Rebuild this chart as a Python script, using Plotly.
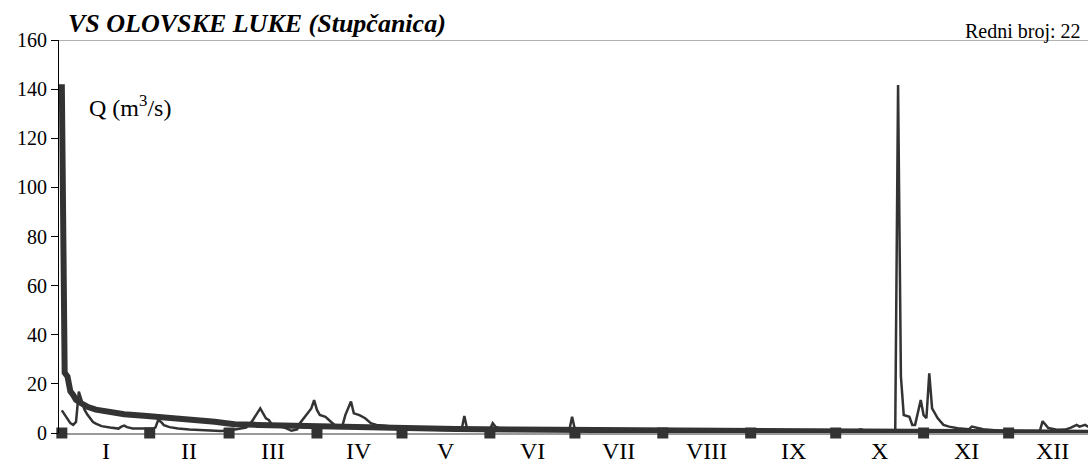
import plotly.graph_objects as go

# daily discharge hydrograph, read at its vertices (day of year, m3/s)
daily_day = [1, 2, 3, 4, 5, 6, 7, 8, 9, 10, 11, 12, 13, 15, 18, 21, 22, 23, 24, 26, 30, 33, 34, 35, 36, 37,
             39, 42, 46, 52, 57, 60, 64, 66, 68, 71, 73, 74, 75, 77, 80, 82, 84, 85, 87, 88, 89, 90, 91, 92,
             94, 96, 98, 100, 101, 103, 104, 106, 108, 110, 112, 115, 118, 122, 126, 130, 136, 142, 143, 144,
             148, 152, 153, 154, 156, 160, 170, 178, 180, 181, 182, 186, 195, 205, 215, 225, 240, 255, 270,
             280, 282, 283, 284, 290, 294, 295, 296, 297, 298, 300, 301, 302, 304, 305, 306, 307, 308, 310,
             312, 314, 317, 321, 322, 326, 333, 340, 346, 347, 349, 352, 355, 357, 358, 359, 360, 362, 363, 365]
daily_q = [9.2, 7.5, 5.5, 4.0, 3.3, 4.5, 16.8, 13.0, 9.5, 7.5, 6.0, 4.5, 3.8, 2.8, 2.2, 1.8, 2.6, 3.0, 2.4,
           1.8, 1.8, 1.8, 2.2, 5.3, 4.5, 3.2, 2.4, 1.8, 1.4, 1.0, 0.8, 1.0, 1.6, 2.2, 4.6, 10.0, 6.0, 5.3,
           3.7, 3.0, 2.0, 0.9, 1.5, 4.0, 7.0, 8.7, 10.0, 13.4, 9.4, 7.3, 6.6, 4.5, 2.6, 3.0, 7.3, 12.8, 8.0,
           7.3, 6.0, 4.0, 3.3, 3.0, 2.5, 2.0, 1.8, 1.4, 1.2, 1.2, 6.9, 1.5, 1.3, 1.4, 4.0, 2.5, 1.8, 1.2,
           1.0, 0.9, 1.0, 6.6, 1.4, 1.5, 1.3, 1.1, 0.9, 0.8, 0.7, 0.6, 0.6, 0.6, 1.2, 1.5, 0.9, 0.6, 0.6,
           1.0, 141.7, 23.0, 7.3, 6.6, 3.3, 3.3, 13.4, 7.3, 6.0, 24.3, 10.0, 6.0, 3.3, 2.6, 1.9, 1.5, 2.6,
           1.5, 0.8, 0.8, 0.8, 4.8, 2.0, 1.3, 1.4, 2.2, 2.8, 3.3, 2.6, 3.3, 2.6, 2.4]

# duration curve (thick line), read at its vertices
dur_day = [1, 2, 3, 4, 5, 6, 8, 10, 13, 17, 23, 30, 35, 45, 55, 59, 62, 70, 80, 95, 110, 122, 140, 160,
           182, 200, 230, 260, 290, 320, 350, 365]
dur_q = [142, 24.5, 23, 17, 15.5, 13.5, 12, 10.7, 9.5, 8.7, 7.6, 7.0, 6.6, 5.5, 4.6, 4.0, 3.6, 3.3, 3.0,
         2.5, 2.1, 1.9, 1.6, 1.4, 1.2, 1.0, 0.8, 0.6, 0.5, 0.3, 0.2, 0.1]

month_start = [1, 32, 60, 91, 121, 152, 182, 213, 244, 274, 305, 335]
month_mid = [16.5, 46, 75.5, 106, 136.5, 167, 197.5, 228.5, 259, 289.5, 320, 350.5]
month_names = ['I', 'II', 'III', 'IV', 'V', 'VI', 'VII', 'VIII', 'IX', 'X', 'XI', 'XII']

serif = 'Liberation Serif, Times New Roman, serif'
ink = '#333333'

fig = go.Figure()
fig.add_trace(go.Scatter(x=daily_day, y=daily_q, mode='lines',
                         line=dict(color=ink, width=2.5), showlegend=False))
fig.add_trace(go.Scatter(x=dur_day, y=dur_q, mode='lines',
                         line=dict(color=ink, width=6), showlegend=False))
fig.add_trace(go.Scatter(x=month_start, y=[0] * len(month_start), mode='markers',
                         marker=dict(symbol='square', size=11, color=ink),
                         cliponaxis=False, showlegend=False))

fig.add_shape(type='line', xref='paper', x0=0, x1=1, yref='y', y0=160, y1=160,
              line=dict(color='#999999', width=1.5))

# month names under the axis
for mid, name in zip(month_mid, month_names):
    fig.add_annotation(text=name, x=mid, y=0, xref='x', yref='y', yanchor='top', yshift=-3,
                       showarrow=False, font=dict(family=serif, size=24, color='black'))

fig.add_annotation(text='Redni broj: 22', xref='paper', yref='paper', x=0.995, y=1.0,
                   xanchor='right', yanchor='bottom', yshift=-5, showarrow=False,
                   font=dict(family=serif, size=20, color='black'))
fig.add_annotation(text='Q (m<sup>3</sup>/s)', xref='x', yref='y', x=10, y=133,
                   xanchor='left', yanchor='middle', showarrow=False,
                   font=dict(family=serif, size=24, color='black'))

fig.update_layout(
    width=1088, height=464,
    paper_bgcolor='white', plot_bgcolor='white',
    margin=dict(l=59, r=0, t=40, b=31),
    font=dict(family=serif, color='black'),
    title=dict(text='<b><i>VS OLOVSKE LUKE (Stupčanica)</i></b>', xref='container', yref='container',
               x=68 / 1088, y=1 - 23 / 464, xanchor='left', yanchor='middle',
               font=dict(family=serif, size=26, color='black')),
    xaxis=dict(range=[0, 363], showgrid=False, zeroline=False, layer='below traces',
               showline=True, linecolor='#999999', linewidth=2,
               showticklabels=False, ticks=''),
    yaxis=dict(range=[0, 160], dtick=20, showgrid=False, zeroline=False,
               showline=True, linecolor='black', linewidth=1,
               ticks='outside', ticklen=7, tickcolor='black',
               tickfont=dict(size=20, family=serif)),
)

fig.write_html("out.html", config={'displayModeBar': False},
               post_script="document.body.style.margin='0';")
